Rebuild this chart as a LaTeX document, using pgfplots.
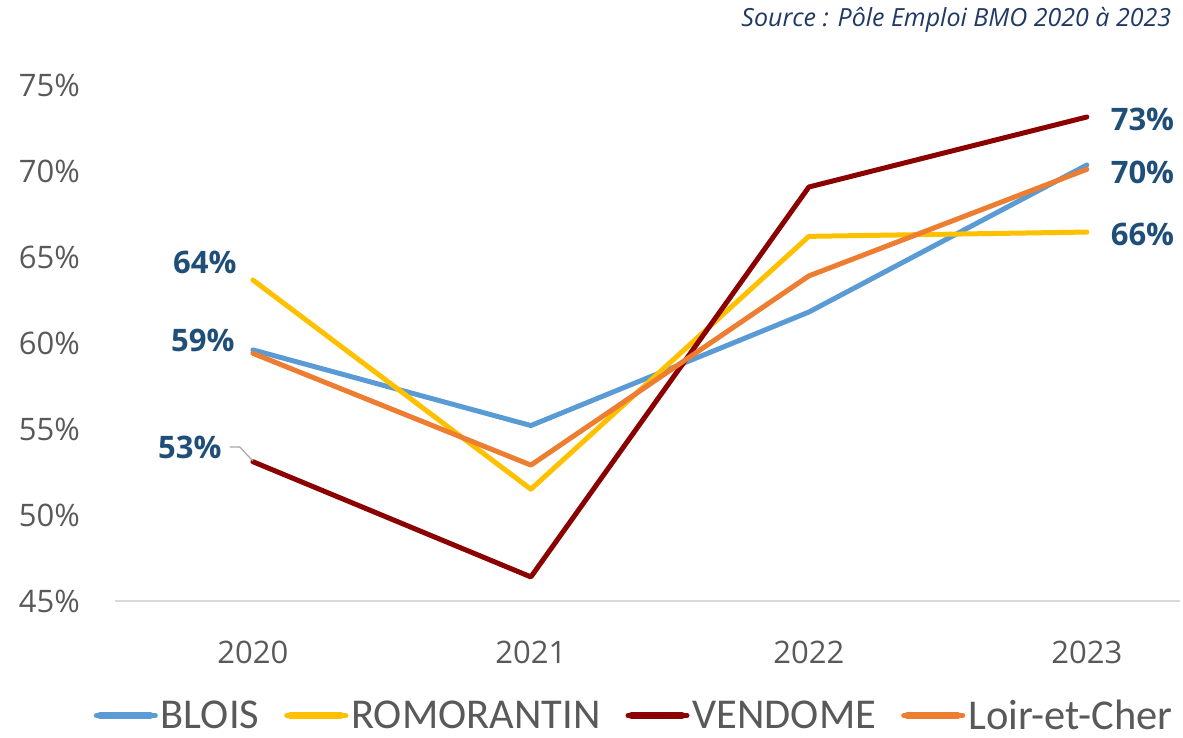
\documentclass[border=0pt]{standalone}
\usepackage{pgfplots}
\pgfplotsset{compat=1.18}
\usepackage{fontspec}
\setmainfont{Open Sans}
\newfontfamily\carlito{Carlito}
\definecolor{cBlois}{HTML}{5B9BD5}
\definecolor{cRomo}{HTML}{FFC000}
\definecolor{cVend}{HTML}{8B0000}
\definecolor{cLoir}{HTML}{ED7D31}
\definecolor{lab}{HTML}{1F4E79}
\definecolor{tickc}{HTML}{595959}
\definecolor{src}{HTML}{1F3864}
\begin{document}
\begin{tikzpicture}
\path[use as bounding box] (-115pt,-137pt) rectangle (1068pt,601pt);
\begin{axis}[
  at={(0,0)}, anchor=south west,
  scale only axis, width=1065pt, height=516pt,
  xmin=-0.496, xmax=3.335, ymin=45, ymax=75,
  clip=false,
  axis x line*=bottom, axis y line*=left,
  x axis line style={draw=black!15, line width=1.5pt, -},
  y axis line style={draw=none},
  major tick length=0pt, tick style={draw=none},
  ytick={45,50,55,60,65,70,75},
  yticklabels={45\%,50\%,55\%,60\%,65\%,70\%,75\%},
  yticklabel style={font=\fontsize{31}{36}\selectfont, text=tickc, inner sep=0pt, anchor=east, xshift=-35pt},
  xtick={0,1,2,3}, xticklabels={2020,2021,2022,2023},
  xticklabel style={font=\fontsize{31}{36}\selectfont, text=tickc, inner sep=0pt, anchor=north, yshift=-40pt},
  legend columns=4,
  legend style={at={(rel axis cs:0.488,-0.222)}, anchor=center, draw=none, fill=none,
    font=\carlito\fontsize{42.5}{46}\selectfont, text=tickc,
    nodes={inner xsep=3pt, inner ysep=1pt},
    /tikz/every even column/.append style={column sep=22pt}},
  legend image code/.code={\path (0pt,0pt) -- (59pt,0pt);\draw[line width=7pt, line cap=round] (3.5pt,0pt) -- (54pt,0pt);},
  every axis plot/.append style={line width=5pt, line join=round, line cap=round},
]
\addplot[cBlois] coordinates {(0,59.6) (1,55.2) (2,61.8) (3,70.35)};
\addlegendentry{BLOIS}
\addplot[cRomo] coordinates {(0,63.66) (1,51.5) (2,66.2) (3,66.45)};
\addlegendentry{ROMORANTIN}
\addplot[cVend] coordinates {(0,53.1) (1,46.4) (2,69.07) (3,73.14)};
\addlegendentry{VENDOME}
\addplot[cLoir] coordinates {(0,59.4) (1,52.9) (2,63.9) (3,70.1)};
\addlegendentry{Loir-et-Cher}
\draw[black!35, line width=1.2pt] (axis cs:-0.083,53.95) -- (axis cs:-0.047,53.95) -- (axis cs:0,53.14);
\node[font=\bfseries\fontsize{31}{36}\selectfont, text=lab] at (axis cs:-0.173,64.7) {64\%};
\node[font=\bfseries\fontsize{31}{36}\selectfont, text=lab] at (axis cs:-0.18,60.17) {59\%};
\node[font=\bfseries\fontsize{31}{36}\selectfont, text=lab] at (axis cs:-0.227,53.95) {53\%};
\node[font=\bfseries\fontsize{31}{36}\selectfont, text=lab] at (axis cs:3.2,72.97) {73\%};
\node[font=\bfseries\fontsize{31}{36}\selectfont, text=lab] at (axis cs:3.2,69.94) {70\%};
\node[font=\bfseries\fontsize{31}{36}\selectfont, text=lab] at (axis cs:3.2,66.34) {66\%};
\node[anchor=east, font=\itshape\fontsize{25}{30}\selectfont, text=src] at (rel axis cs:0.995,1.126) {Source : Pôle Emploi BMO 2020 à 2023};
\end{axis}
\end{tikzpicture}
\end{document}
